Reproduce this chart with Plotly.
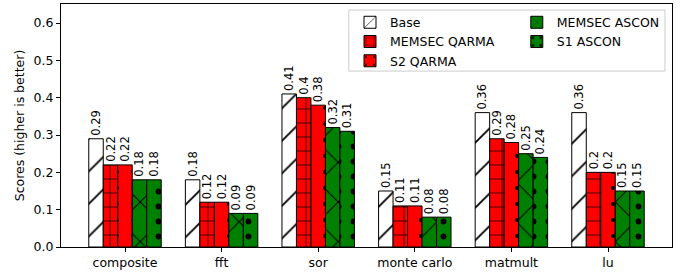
import plotly.graph_objects as go

categories = ["composite", "fft", "sor", "monte carlo", "matmult", "lu"]
series_names = ["Base", "MEMSEC QARMA", "S2 QARMA", "MEMSEC ASCON", "S1 ASCON"]
base = [0.29, 0.18, 0.41, 0.15, 0.36, 0.36]
memsec_qarma = [0.22, 0.12, 0.40, 0.11, 0.29, 0.20]
s2_qarma = [0.22, 0.12, 0.38, 0.11, 0.28, 0.20]
memsec_ascon = [0.18, 0.09, 0.32, 0.08, 0.25, 0.15]
s1_ascon = [0.18, 0.09, 0.31, 0.08, 0.24, 0.15]
y_ticks = [0.0, 0.1, 0.2, 0.3, 0.4, 0.5, 0.6]

values = [base, memsec_qarma, s2_qarma, memsec_ascon, s1_ascon]
colors = ["white", "#ff0000", "#ff0000", "#008000", "#008000"]
shapes = ["/", "+", ".", "x", "."]
psizes = [23, 14, 16, 28, 15]
solid = [0.08, 0.1, 0.05, 0.07, 0.12]
legends = ["legend", "legend", "legend", "legend2", "legend2"]

FONT = "DejaVu Sans"
fig = go.Figure()
n = len(series_names)
w = 0.15
for i, (name, vals) in enumerate(zip(series_names, values)):
    xs = [j + (i - (n - 1) / 2) * w for j in range(len(categories))]
    fig.add_trace(go.Bar(
        x=xs, y=vals, width=w, name=name,
        marker=dict(color=colors[i], line=dict(color="black", width=1),
                    pattern=dict(shape=shapes[i], fgcolor="black", bgcolor=colors[i],
                                 fgopacity=1, fillmode="replace",
                                 size=psizes[i], solidity=solid[i])),
        text=[f"{v:g}" for v in vals], textposition="outside", textangle=-90,
        textfont=dict(family=FONT, size=11.5, color="black"),
        constraintext="none", cliponaxis=False,
        legend=legends[i],
    ))

fig.update_layout(
    width=683, height=275,
    margin=dict(l=61, r=11, t=4, b=28),
    plot_bgcolor="white", paper_bgcolor="white",
    font=dict(family=FONT, size=12, color="black"),
    showlegend=True,
    legend=dict(x=0.473, y=0.985, xanchor="left", yanchor="top", bgcolor="rgba(0,0,0,0)",
                font=dict(family=FONT, size=12.5), tracegroupgap=0, itemwidth=30),
    legend2=dict(x=0.746, y=0.985, xanchor="left", yanchor="top", bgcolor="rgba(0,0,0,0)",
                 font=dict(family=FONT, size=12.5), tracegroupgap=0, itemwidth=30),
    shapes=[dict(type="rect", xref="paper", yref="paper", x0=0.471, x1=0.9885, y0=0.724, y1=0.975,
                 line=dict(color="#cccccc", width=1), fillcolor="rgba(255,255,255,0.8)", layer="above")],
    xaxis=dict(range=[-0.6625, 5.6625], tickmode="array", tickvals=list(range(len(categories))),
               ticktext=categories, ticks="outside", ticklen=4, tickcolor="black",
               showline=True, linecolor="black", linewidth=1, mirror=True, showgrid=False,
               zeroline=False, tickfont=dict(size=12.5)),
    yaxis=dict(range=[0, 0.651], tickmode="array", tickvals=y_ticks,
               ticktext=[f"{t:.1f}" for t in y_ticks], ticks="outside", ticklen=4, tickcolor="black",
               showline=True, linecolor="black", linewidth=1, mirror=True, showgrid=False,
               zeroline=False, tickfont=dict(size=12.5),
               title=dict(text="Scores (higher is better)", font=dict(size=12.5), standoff=6)),
)
fig.write_html("out.html", config={"displayModeBar": False},
               post_script="document.body.style.margin='0';document.body.style.overflow='hidden';")
